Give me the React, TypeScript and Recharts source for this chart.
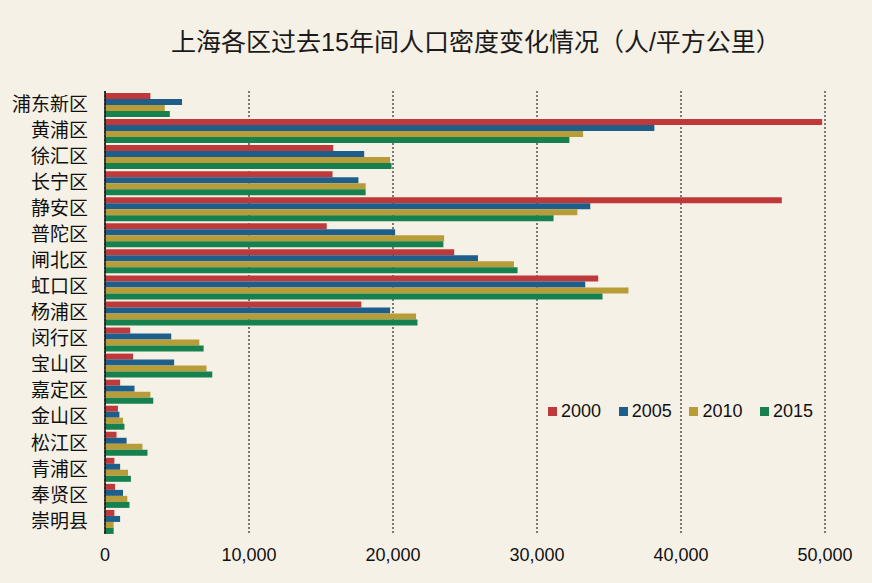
import { BarChart, Bar, XAxis, YAxis, CartesianGrid, Legend } from 'recharts';

const districts = [
  '浦东新区', '黄浦区', '徐汇区', '长宁区', '静安区', '普陀区', '闸北区', '虹口区', '杨浦区',
  '闵行区', '宝山区', '嘉定区', '金山区', '松江区', '青浦区', '奉贤区', '崇明县',
];

const y2000 = [3150, 49800, 15850, 15800, 47000, 15400, 24250, 34250, 17800, 1750, 1950, 1050, 900, 800, 650, 700, 650];
const y2005 = [5350, 38150, 18000, 17600, 33700, 20150, 25900, 33350, 19800, 4600, 4800, 2050, 1000, 1500, 1050, 1250, 1050];
const y2010 = [4150, 33200, 19800, 18100, 32800, 23550, 28400, 36350, 21600, 6550, 7050, 3150, 1250, 2600, 1600, 1550, 600];
const y2015 = [4500, 32250, 19900, 18100, 31150, 23500, 28650, 34550, 21700, 6850, 7450, 3350, 1350, 2950, 1800, 1700, 600];

const xTicks = [0, 10000, 20000, 30000, 40000, 50000];

const series = [
  { key: 'y2000', name: '2000', color: '#c0393a' },
  { key: 'y2005', name: '2005', color: '#1d5f8a' },
  { key: 'y2010', name: '2010', color: '#b89c38' },
  { key: 'y2015', name: '2015', color: '#17804f' },
];

const data = districts.map((name, i) => ({
  name,
  y2000: y2000[i],
  y2005: y2005[i],
  y2010: y2010[i],
  y2015: y2015[i],
}));

const FONT = '"Liberation Sans", Arial, "Noto Sans CJK SC", sans-serif';

// legend drawn by hand so the spacing matches the original
const LegendBox = () => (
  <div style={{ display: 'flex', fontFamily: FONT, fontSize: 18, color: '#111' }}>
    {series.map(s => (
      <div key={s.key} style={{ display: 'flex', alignItems: 'center', width: 70.7 }}>
        <span style={{ display: 'inline-block', width: 9, height: 9, background: s.color, marginRight: 4 }} />
        <span>{s.name}</span>
      </div>
    ))}
  </div>
);

const App = () => {
  return (
    <div style={{ position: 'absolute', left: 0, top: 0, width: 872, height: 583, background: '#f6f1e6' }}>
      <div
        style={{
          position: 'absolute',
          left: 0,
          top: 26,
          width: 952,
          textAlign: 'center',
          fontFamily: FONT,
          fontSize: 25,
          color: '#1a1a1a',
          lineHeight: '32px',
        }}
      >
        上海各区过去15年间人口密度变化情况（人/平方公里）
      </div>
      <BarChart
        width={872}
        height={583}
        data={data}
        layout="vertical"
        margin={{ top: 91, right: 47, left: 0, bottom: 9 }}
        barCategoryGap={2}
        barGap={0}
        style={{ position: 'absolute', left: 0, top: 0 }}
      >
        <CartesianGrid horizontal={false} stroke="#7a7a7a" strokeWidth={2} strokeDasharray="2 2" />
        <XAxis
          type="number"
          domain={[0, 50000]}
          ticks={xTicks}
          axisLine={false}
          tickLine={false}
          tickSize={6}
          tickMargin={8}
          height={40}
          tickFormatter={(v: number) => v.toLocaleString('en-US')}
          tick={{ fontSize: 18, fill: '#111', fontFamily: FONT }}
        />
        <YAxis
          type="category"
          dataKey="name"
          width={105}
          axisLine={{ stroke: '#111', strokeWidth: 1.5 }}
          tickLine={false}
          tickSize={6}
          tickMargin={11}
          interval={0}
          tick={{ fontSize: 19, fill: '#111', fontFamily: FONT }}
        />
        <Legend
          content={<LegendBox />}
          layout="horizontal"
          verticalAlign="middle"
          align="center"
          wrapperStyle={{ left: 548, top: 401, width: 300 }}
        />
        {series.map(s => (
          <Bar key={s.key} dataKey={s.key} name={s.name} fill={s.color} isAnimationActive={false} />
        ))}
      </BarChart>
    </div>
  );
};

export default App;
